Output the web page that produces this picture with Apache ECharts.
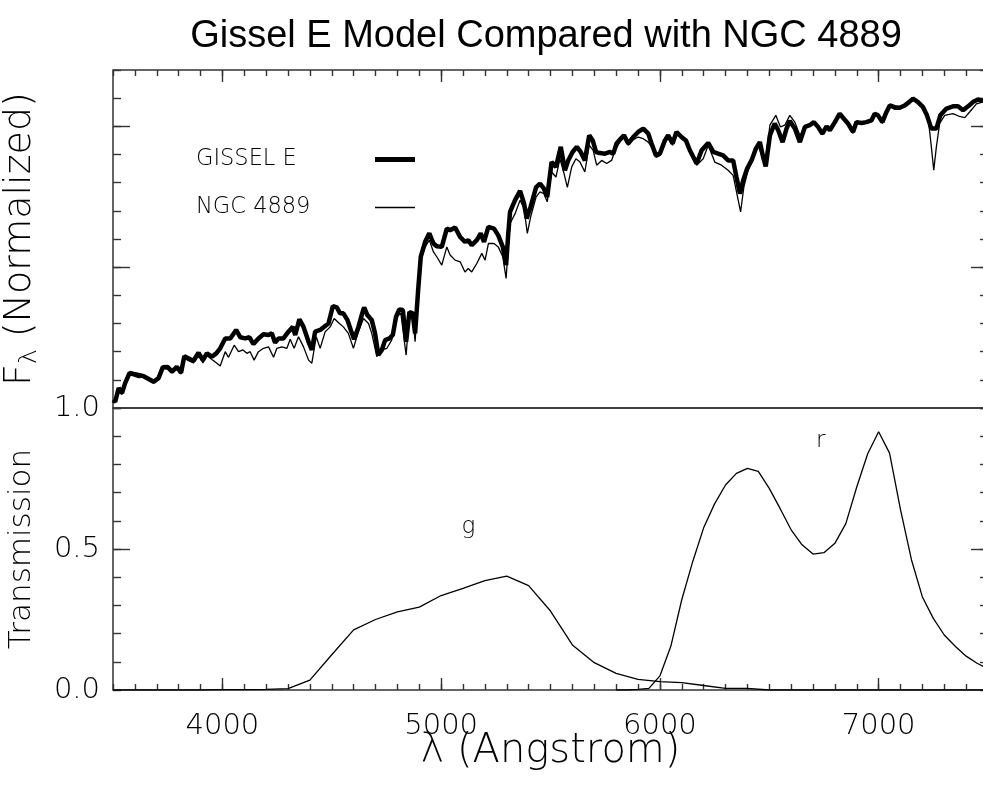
<!DOCTYPE html>
<html><head><meta charset="utf-8">
<script src="https://cdn.jsdelivr.net/npm/echarts@6/dist/echarts.min.js"></script>
<style>html,body{margin:0;padding:0;background:#fff}#c{width:983px;height:797px}</style>
</head><body><div id="c"></div>
<script>
// ---- data ----
const gisselLam = [3500,3510,3526,3541,3556,3576,3594,3617,3640,3663,3686,3708,3728,3749,3770,3792,3811,3826,3845,3868,3891,3911,3929,3952,3972,3990,4013,4036,4063,4082,4104,4124,4142,4165,4188,4211,4226,4241,4257,4279,4302,4322,4333,4352,4371,4394,4409,4424,4447,4470,4485,4505,4523,4538,4553,4572,4587,4602,4622,4637,4648,4663,4683,4698,4713,4729,4744,4764,4779,4794,4809,4825,4840,4855,4870,4881,4896,4907,4927,4946,4965,4980,5003,5026,5041,5064,5087,5109,5124,5140,5163,5181,5196,5216,5242,5261,5282,5297,5307,5315,5338,5361,5379,5391,5409,5434,5452,5470,5485,5505,5525,5547,5566,5581,5601,5620,5638,5657,5677,5693,5708,5726,5749,5772,5787,5802,5817,5836,5855,5878,5901,5924,5947,5962,5982,6000,6023,6038,6058,6076,6099,6119,6137,6168,6191,6221,6244,6266,6289,6312,6335,6350,6366,6381,6399,6419,6439,6457,6472,6484,6503,6525,6541,6561,6579,6594,6617,6640,6663,6685,6704,6723,6743,6762,6777,6800,6822,6841,6860,6883,6899,6922,6944,6967,6982,6997,7017,7036,7051,7074,7096,7119,7139,7157,7180,7203,7221,7241,7264,7282,7310,7340,7363,7386,7409,7431,7454,7477,7500];
const gisselFlux = [1.028,1.022,1.071,1.053,1.089,1.125,1.121,1.117,1.113,1.103,1.093,1.106,1.145,1.146,1.129,1.146,1.125,1.184,1.176,1.168,1.196,1.170,1.194,1.182,1.194,1.212,1.247,1.247,1.277,1.251,1.247,1.251,1.227,1.247,1.262,1.259,1.265,1.232,1.247,1.247,1.271,1.288,1.259,1.315,1.288,1.235,1.206,1.271,1.277,1.291,1.300,1.362,1.357,1.336,1.336,1.312,1.277,1.244,1.288,1.330,1.357,1.330,1.312,1.265,1.188,1.206,1.241,1.247,1.259,1.324,1.350,1.348,1.235,1.341,1.336,1.265,1.430,1.537,1.590,1.620,1.584,1.574,1.572,1.637,1.631,1.641,1.607,1.590,1.596,1.578,1.596,1.620,1.590,1.643,1.637,1.613,1.572,1.507,1.620,1.696,1.738,1.771,1.726,1.673,1.714,1.783,1.797,1.779,1.749,1.873,1.856,1.927,1.844,1.879,1.909,1.927,1.909,1.879,1.968,1.950,1.909,1.905,1.903,1.909,1.903,1.939,1.953,1.968,1.939,1.962,1.980,1.992,1.974,1.939,1.897,1.903,1.950,1.968,1.939,1.980,1.962,1.950,1.915,1.868,1.915,1.941,1.909,1.903,1.897,1.879,1.879,1.820,1.761,1.809,1.850,1.879,1.921,1.944,1.891,1.858,1.968,2.010,1.986,1.944,1.992,2.019,1.992,1.944,1.998,2.004,2.015,1.998,1.974,2.000,1.986,2.015,2.045,2.027,2.010,1.980,2.015,2.012,2.015,2.021,2.045,2.039,2.015,2.051,2.074,2.068,2.066,2.074,2.086,2.098,2.086,2.068,2.039,1.992,1.992,2.039,2.063,2.071,2.071,2.057,2.071,2.086,2.095,2.092,2.090];

const ngcLam = [3500,3510,3526,3541,3556,3576,3594,3617,3640,3663,3686,3708,3728,3749,3770,3792,3811,3826,3845,3868,3891,3911,3929,3952,3975,3990,4013,4028,4054,4074,4094,4112,4127,4145,4165,4188,4211,4234,4249,4272,4295,4310,4328,4348,4371,4394,4409,4429,4447,4470,4493,4511,4535,4553,4576,4599,4622,4645,4668,4683,4706,4729,4752,4774,4797,4816,4840,4855,4870,4881,4896,4907,4927,4946,4965,4980,5003,5026,5041,5064,5087,5109,5124,5140,5163,5186,5201,5216,5242,5261,5282,5297,5315,5338,5361,5379,5394,5409,5434,5452,5470,5485,5505,5525,5543,5562,5577,5597,5616,5635,5657,5677,5695,5711,5734,5757,5779,5799,5817,5836,5855,5878,5901,5924,5947,5962,5982,6000,6023,6038,6058,6076,6099,6119,6137,6168,6198,6221,6251,6282,6312,6335,6358,6369,6384,6403,6426,6449,6465,6480,6503,6530,6551,6571,6594,6617,6640,6663,6685,6704,6723,6743,6762,6777,6800,6822,6841,6860,6883,6899,6922,6944,6967,6982,6997,7017,7036,7051,7074,7096,7119,7139,7157,7180,7203,7226,7241,7252,7264,7279,7302,7340,7370,7394,7416,7447,7475,7500];
const ngcFlux = [1.030,1.018,1.062,1.048,1.082,1.118,1.114,1.108,1.110,1.098,1.088,1.100,1.138,1.140,1.124,1.140,1.120,1.178,1.168,1.160,1.188,1.160,1.186,1.172,1.159,1.149,1.200,1.180,1.223,1.200,1.206,1.194,1.200,1.170,1.200,1.212,1.217,1.180,1.212,1.217,1.212,1.244,1.212,1.253,1.217,1.170,1.159,1.253,1.212,1.271,1.288,1.318,1.300,1.288,1.265,1.212,1.271,1.318,1.300,1.265,1.182,1.206,1.212,1.241,1.324,1.336,1.188,1.336,1.326,1.235,1.418,1.525,1.572,1.596,1.554,1.537,1.507,1.572,1.543,1.525,1.519,1.483,1.495,1.483,1.513,1.549,1.525,1.584,1.584,1.572,1.537,1.460,1.655,1.690,1.738,1.708,1.620,1.678,1.749,1.767,1.761,1.732,1.838,1.820,1.885,1.832,1.783,1.856,1.885,1.873,1.838,1.933,1.915,1.862,1.879,1.868,1.879,1.921,1.944,1.962,1.933,1.953,1.962,1.956,1.944,1.927,1.890,1.897,1.944,1.961,1.933,1.974,1.957,1.943,1.909,1.862,1.885,1.933,1.873,1.862,1.844,1.826,1.738,1.696,1.785,1.844,1.885,1.933,1.897,1.862,2.004,2.039,1.998,2.004,2.039,2.015,1.968,1.995,2.002,2.012,1.995,1.970,1.998,1.985,2.012,2.040,2.025,2.005,1.975,2.010,2.010,2.012,2.020,2.040,2.035,2.010,2.048,2.070,2.060,2.062,2.070,2.083,2.095,2.083,2.068,2.033,1.927,1.844,1.927,2.010,2.039,2.045,2.035,2.031,2.051,2.080,2.086,2.090];

const gLam = [3500,3600,3700,3800,3900,4000,4100,4200,4300,4400,4500,4600,4700,4800,4900,5000,5100,5200,5300,5400,5500,5600,5700,5800,5900,6000,6100,6200,6300,6400,6500,6600,6700,6800,6900,7000,7100,7200,7300,7400,7500];
const gTrans = [0,0,0,0,0,0.001,0.001,0.002,0.005,0.035,0.125,0.213,0.250,0.277,0.294,0.335,0.360,0.388,0.404,0.370,0.280,0.160,0.097,0.059,0.038,0.030,0.026,0.016,0.006,0.006,0,0,0,0,0,0,0,0,0,0,0];

const rLam = [5800,5850,5900,5950,6000,6050,6100,6150,6200,6250,6300,6350,6400,6450,6500,6550,6600,6650,6700,6750,6800,6850,6900,6950,7000,7050,7100,7150,7200,7250,7300,7350,7400,7450,7500];
const rTrans = [0,0,0.002,0.006,0.050,0.155,0.320,0.455,0.575,0.660,0.727,0.768,0.786,0.775,0.715,0.643,0.568,0.515,0.482,0.487,0.520,0.590,0.720,0.838,0.916,0.840,0.640,0.462,0.330,0.254,0.195,0.155,0.120,0.095,0.075];

const xMajorTicks = [4000,5000,6000,7000];
const yTopMajorTicks = [1.5,2.0];
const yBottomMajorTicks = [0.5];
const yBottomLabels = [0,0.5,1.0];
const filterNames = [['g',5125,0.577],['r',6735,0.882]];

// ---- chart ----
const AX = '#333';
const FONT = 'DejaVu Sans';
const TW = 200;
const zip = (a,b)=>a.map((x,i)=>[x,b[i]]);
const tick = (len, custom) => Object.assign({show:true, inside:true, length:len, lineStyle:{color:AX,width:1.4}}, custom?{customValues:custom}:{});

function xPair(grid, pos, labels){
  const base = {type:'value', gridIndex:grid, min:3500, max:7500, position:pos, axisLine:{show:false}, splitLine:{show:false}};
  const major = Object.assign({}, base, {
    axisTick: tick(12, xMajorTicks),
    axisLabel: labels ? {show:true, customValues:xMajorTicks, margin:22, color:'#000', fontFamily:FONT, fontSize:29, fontWeight:TW, formatter:v=>String(v)} : {show:false}
  });
  if (labels) Object.assign(major, {name:'\u03bb (Angstrom)', nameLocation:'middle', nameGap:42, nameMoveOverlap:false,
     nameTextStyle:{color:'#000', fontFamily:FONT, fontSize:40, fontWeight:TW, verticalAlign:'top'}});
  const minor = Object.assign({}, base, {interval:100, axisTick: tick(6), axisLabel:{show:false}});
  return [major, minor];
}
function yPair(grid, pos, min, max, majors, labelVals, nameObj){
  const base = {type:'value', gridIndex:grid, min, max, position:pos, axisLine:{show:false}, splitLine:{show:false}};
  const major = Object.assign({}, base, {
    axisTick: tick(17, majors),
    axisLabel: labelVals ? {show:true, customValues:labelVals, margin:13, color:'#000', fontFamily:FONT, fontSize:29, fontWeight:TW, formatter:v=>v.toFixed(1)} : {show:false}
  }, nameObj||{});
  const minor = Object.assign({}, base, {interval:0.1, axisTick: tick(8), axisLabel:{show:false}});
  return [major, minor];
}

const xAxes = [...xPair(0,'top',false), ...xPair(1,'bottom',true)];
const yAxes = [
  ...yPair(0,'left',1,2.2,yTopMajorTicks,null,{name:'{f|F}{s|\u03bb}{f| (Normalized)}', nameLocation:'middle', nameGap:71, nameMoveOverlap:false,
     nameTextStyle:{color:'#000', rich:{f:{fontFamily:FONT,fontSize:38,fontWeight:TW,color:'#000'}, s:{fontFamily:FONT,fontSize:25,fontWeight:TW,color:'#000',padding:[18,0,0,0]}}}}),
  ...yPair(0,'right',1,2.2,yTopMajorTicks,null),
  ...yPair(1,'left',0,1,yBottomMajorTicks,yBottomLabels,{name:'Transmission', nameLocation:'middle', nameGap:76, nameMoveOverlap:false,
     nameTextStyle:{color:'#000', fontFamily:FONT, fontSize:31, fontWeight:TW}}),
  ...yPair(1,'right',0,1,yBottomMajorTicks,null)
];

const chart = echarts.init(document.getElementById('c'));
chart.setOption({
  animation:false,
  backgroundColor:'#fff',
  title:{text:'Gissel E Model Compared with NGC 4889', left:541, top:13, textAlign:'center',
    textStyle:{fontFamily:'Liberation Sans', fontSize:38, fontWeight:'normal', color:'#000'}},
  legend:{data:[{name:'GISSEL E', lineStyle:{width:5}}, {name:'NGC 4889', lineStyle:{width:1.3}}],
    orient:'vertical', left:196, top:148, padding:0, align:'right', itemWidth:40, itemHeight:14, itemGap:25,
    selectedMode:false, formatter:n=>'{a|'+n+'}',
    itemStyle:{color:'rgba(0,0,0,0)', borderWidth:0, opacity:0},
    textStyle:{rich:{a:{width:174, align:'left', fontFamily:FONT, fontSize:22.5, fontWeight:TW, color:'#000'}}}},
  grid:[
    {left:113, top:70, width:875, height:338, show:true, borderColor:AX, borderWidth:1.5, backgroundColor:'transparent', outerBoundsMode:'none', containLabel:false},
    {left:113, top:408, width:875, height:282, show:true, borderColor:AX, borderWidth:1.5, backgroundColor:'transparent', outerBoundsMode:'none', containLabel:false}
  ],
  xAxis: xAxes,
  yAxis: yAxes,
  series:[
    {name:'GISSEL E', type:'line', xAxisIndex:0, yAxisIndex:0, data:zip(gisselLam,gisselFlux), showSymbol:false, symbol:'none',
      lineStyle:{color:'#000', width:4.5}, itemStyle:{color:'#000'}, z:2},
    {name:'NGC 4889', type:'line', xAxisIndex:0, yAxisIndex:0, data:zip(ngcLam,ngcFlux), showSymbol:false, symbol:'none',
      lineStyle:{color:'#000', width:1.3}, itemStyle:{color:'#000'}, z:3},
    {name:'g', type:'line', xAxisIndex:2, yAxisIndex:4, data:zip(gLam,gTrans), showSymbol:false, symbol:'none',
      lineStyle:{color:'#000', width:1.3},
      markPoint:{symbol:'circle', symbolSize:1, itemStyle:{color:'rgba(0,0,0,0)'},
        label:{show:true, position:'inside', color:'#000', fontFamily:FONT, fontSize:23, fontWeight:TW, formatter:p=>p.name},
        data:filterNames.map(f=>({name:f[0], coord:[f[1],f[2]]}))}},
    {name:'r', type:'line', xAxisIndex:2, yAxisIndex:4, data:zip(rLam,rTrans), showSymbol:false, symbol:'none',
      lineStyle:{color:'#000', width:1.3}}
  ]
});
</script></body></html>
